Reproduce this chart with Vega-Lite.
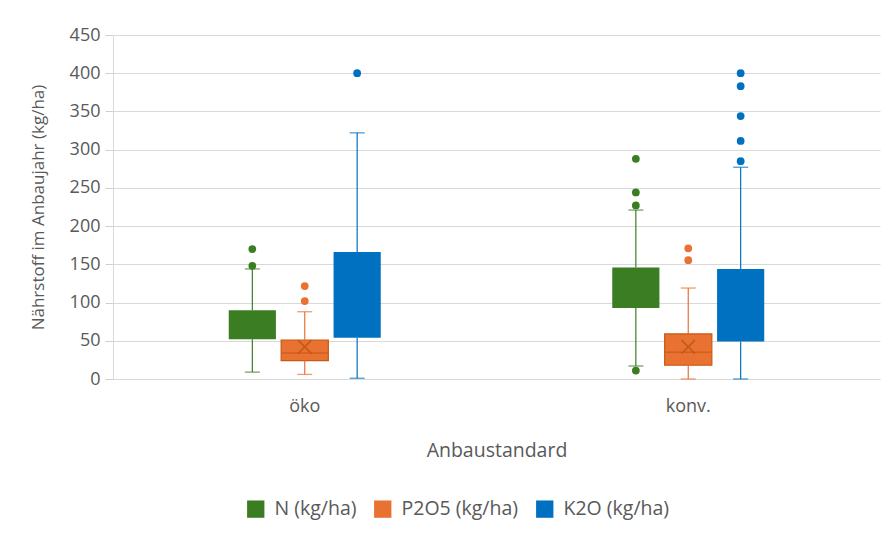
{
  "$schema": "https://vega.github.io/schema/vega-lite/v6.json",
  "width": 767,
  "height": 344,
  "autosize": {"type": "none"},
  "padding": {"left": 113, "top": 35, "right": 8, "bottom": 165},
  "background": "white",
  "config": {
    "font": "Open Sans",
    "view": {"stroke": null},
    "axis": {
      "labelColor": "#595959",
      "titleColor": "#595959",
      "labelFontSize": 18,
      "titleFontSize": 17,
      "titleFontWeight": "normal",
      "gridColor": "#D9D9D9",
      "domainColor": "#D9D9D9",
      "tickColor": "#D0D0D0"
    },
    "axisY": {
      "tickCount": 10,
      "labelOverlap": false,
      "tickSize": 8,
      "labelPadding": 5,
      "titlePadding": 22
    },
    "legend": {
      "orient": "none",
      "legendX": 133,
      "legendY": 464,
      "direction": "horizontal",
      "symbolType": "square",
      "symbolSize": 300,
      "symbolStrokeWidth": 0,
      "labelFontSize": 19.5,
      "labelColor": "#595959",
      "labelOffset": 9,
      "columnPadding": 16,
      "padding": 0
    }
  },
  "datasets": {
    "boxes": [
      {"group": "öko", "nutrient": "N (kg/ha)", "lower": 9, "q1": 52, "median": 70, "q3": 90, "upper": 144, "mean": 73},
      {"group": "öko", "nutrient": "P2O5 (kg/ha)", "lower": 6, "q1": 24, "median": 34, "q3": 51, "upper": 88, "mean": 42},
      {"group": "öko", "nutrient": "K2O (kg/ha)", "lower": 1, "q1": 54, "median": 100, "q3": 166, "upper": 322, "mean": 115},
      {"group": "konv.", "nutrient": "N (kg/ha)", "lower": 17, "q1": 93, "median": 120, "q3": 146, "upper": 221, "mean": 122},
      {"group": "konv.", "nutrient": "P2O5 (kg/ha)", "lower": 0, "q1": 18, "median": 35, "q3": 59, "upper": 119, "mean": 42},
      {"group": "konv.", "nutrient": "K2O (kg/ha)", "lower": 0, "q1": 49, "median": 90, "q3": 144, "upper": 277, "mean": 105}
    ],
    "outliers": [
      {"group": "öko", "nutrient": "N (kg/ha)", "value": 148},
      {"group": "öko", "nutrient": "N (kg/ha)", "value": 170},
      {"group": "öko", "nutrient": "P2O5 (kg/ha)", "value": 102},
      {"group": "öko", "nutrient": "P2O5 (kg/ha)", "value": 121.5},
      {"group": "öko", "nutrient": "K2O (kg/ha)", "value": 400},
      {"group": "konv.", "nutrient": "N (kg/ha)", "value": 11},
      {"group": "konv.", "nutrient": "N (kg/ha)", "value": 227},
      {"group": "konv.", "nutrient": "N (kg/ha)", "value": 244},
      {"group": "konv.", "nutrient": "N (kg/ha)", "value": 288},
      {"group": "konv.", "nutrient": "P2O5 (kg/ha)", "value": 155.5},
      {"group": "konv.", "nutrient": "P2O5 (kg/ha)", "value": 171},
      {"group": "konv.", "nutrient": "K2O (kg/ha)", "value": 285},
      {"group": "konv.", "nutrient": "K2O (kg/ha)", "value": 311.5},
      {"group": "konv.", "nutrient": "K2O (kg/ha)", "value": 344},
      {"group": "konv.", "nutrient": "K2O (kg/ha)", "value": 383},
      {"group": "konv.", "nutrient": "K2O (kg/ha)", "value": 400}
    ]
  },
  "encoding": {
    "x": {
      "field": "group",
      "type": "nominal",
      "sort": ["öko", "konv."],
      "scale": {"paddingInner": 0.59, "paddingOuter": 0.295},
      "axis": {"title": "Anbaustandard", "labelAngle": 0, "ticks": false, "labelPadding": 18, "titlePadding": 26, "labelFontSize": 18, "titleFontSize": 19.5, "domainColor": "#D9D9D9"}
    },
    "xOffset": {
      "field": "nutrient",
      "type": "nominal",
      "sort": ["N (kg/ha)", "P2O5 (kg/ha)", "K2O (kg/ha)"],
      "scale": {"paddingInner": 0.1, "paddingOuter": 0.05}
    },
    "color": {
      "field": "nutrient",
      "type": "nominal",
      "sort": ["N (kg/ha)", "P2O5 (kg/ha)", "K2O (kg/ha)"],
      "scale": {"domain": ["N (kg/ha)", "P2O5 (kg/ha)", "K2O (kg/ha)"], "range": ["#3B7D23", "#E97132", "#0070C0"]},
      "legend": {"title": null}
    }
  },
  "layer": [
    {
      "data": {"name": "boxes"},
      "mark": {"type": "bar", "strokeWidth": 1.2},
      "encoding": {
        "y": {
          "field": "q1",
          "type": "quantitative",
          "scale": {"domain": [0, 450], "nice": false},
          "axis": {"title": "Nährstoff im Anbaujahr (kg/ha)"}
        },
        "y2": {"field": "q3"},
        "stroke": {"condition": {"test": "datum.nutrient === 'P2O5 (kg/ha)'", "value": "#C55A11"}, "value": "transparent"}
      }
    },
    {
      "data": {"name": "boxes"},
      "mark": {"type": "rule", "strokeWidth": 1.2},
      "encoding": {"y": {"field": "lower", "type": "quantitative"}, "y2": {"field": "q1"}}
    },
    {
      "data": {"name": "boxes"},
      "mark": {"type": "rule", "strokeWidth": 1.2},
      "encoding": {"y": {"field": "q3", "type": "quantitative"}, "y2": {"field": "upper"}}
    },
    {
      "data": {"name": "boxes"},
      "mark": {"type": "tick", "size": 15, "thickness": 1.3},
      "encoding": {"y": {"field": "lower", "type": "quantitative"}}
    },
    {
      "data": {"name": "boxes"},
      "mark": {"type": "tick", "size": 15, "thickness": 1.3},
      "encoding": {"y": {"field": "upper", "type": "quantitative"}}
    },
    {
      "data": {"name": "boxes"},
      "transform": [{"filter": "datum.nutrient === 'P2O5 (kg/ha)'"}],
      "mark": {"type": "tick", "size": 46, "thickness": 1.4},
      "encoding": {"y": {"field": "median", "type": "quantitative"}, "color": {"value": "#C55A11"}}
    },
    {
      "data": {"name": "boxes"},
      "transform": [{"filter": "datum.nutrient === 'P2O5 (kg/ha)'"}],
      "mark": {"type": "point", "shape": "M-1,-1L1,1M-1,1L1,-1", "filled": false, "size": 180, "strokeWidth": 1.6, "opacity": 1},
      "encoding": {"y": {"field": "mean", "type": "quantitative"}, "color": {"value": "#C55A11"}}
    },
    {
      "data": {"name": "outliers"},
      "mark": {"type": "point", "shape": "circle", "filled": true, "size": 60, "opacity": 1},
      "encoding": {"y": {"field": "value", "type": "quantitative"}}
    }
  ]
}
